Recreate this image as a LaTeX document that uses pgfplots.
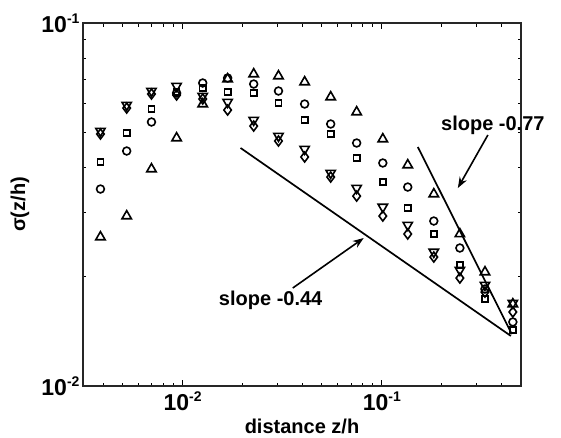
\documentclass[border=0pt]{standalone}
\usepackage{fontspec}
\setmainfont{Liberation Sans}
\usepackage{pgfplots}
\pgfplotsset{compat=1.18}
\usetikzlibrary{arrows.meta}
\newcommand\tl[1]{\fontsize{23}{26}\selectfont 10\raisebox{9pt}{\fontsize{14}{14}\selectfont #1}}
\begin{document}
\begin{tikzpicture}
\begin{axis}[
 at={(0,0)}, anchor=south west,
 scale only axis, width=438pt, height=363pt,
 xmode=log, ymode=log,
 xmin=0.003162, xmax=0.5, ymin=0.01, ymax=0.1,
 xtick={0.01,0.1}, xticklabels={\tl{-2},\tl{-1}},
 ytick={0.01,0.1}, yticklabels={\tl{-2},\tl{-1}},
 minor xtick={0.004,0.005,0.006,0.007,0.008,0.009,0.02,0.03,0.04,0.05,0.06,0.07,0.08,0.09,0.2,0.3,0.4},
 minor ytick={0.02,0.03,0.04,0.05,0.06,0.07,0.08,0.09},
 font=\bfseries,
 axis line style={line width=1.1pt, black!85},
 every tick/.style={black, line width=0.8pt},
 major tick length=6pt, minor tick length=3.5pt,
 xticklabel style={yshift=-2pt},
 xlabel={distance z/h}, ylabel={σ(z/h)},
 label style={font=\fontsize{20}{24}\selectfont\bfseries},
 xlabel style={at={(axis description cs:0.5,-0.1295)}, anchor=base},
 ylabel style={at={(axis description cs:-0.1438,0.5)}, anchor=center},
 clip=false,
 every axis plot/.append style={black, line width=1.6pt},
]
% up triangles
\addplot[only marks, mark=triangle, mark size=5.4pt] coordinates {
(0.00387,0.02573) (0.00524,0.02940) (0.00698,0.03961) (0.00933,0.04822) (0.01262,0.05982)
(0.01683,0.07010) (0.02275,0.07236) (0.0303,0.07145) (0.0410,0.06878) (0.0554,0.06254)
(0.0748,0.05686) (0.1012,0.04791) (0.135,0.04063) (0.1825,0.03380) (0.2466,0.02623)
(0.3297,0.02061) (0.455,0.01682)};
% circles
\addplot[only marks, mark=o, mark size=3.9pt] coordinates {
(0.00387,0.03489) (0.00524,0.04440) (0.00698,0.05337) (0.00933,0.06414) (0.01262,0.06835)
(0.01683,0.07055) (0.02275,0.06791) (0.0303,0.06497) (0.0410,0.05982) (0.0554,0.05270)
(0.0748,0.04671) (0.1012,0.04115) (0.135,0.03533) (0.1825,0.02848) (0.2466,0.02400)
(0.3297,0.01850) (0.455,0.01501)};
% squares
\addplot[only marks, mark=square, mark size=3.1pt] coordinates {
(0.00387,0.04141) (0.00524,0.04977) (0.00698,0.05795) (0.00933,0.06455) (0.01262,0.06621)
(0.01683,0.06455) (0.02275,0.06414) (0.0303,0.06020) (0.0410,0.05405) (0.0554,0.04946)
(0.0748,0.04247) (0.1012,0.03647) (0.135,0.03093) (0.1825,0.02623) (0.2466,0.02154)
(0.3297,0.01737) (0.455,0.01427)};
% down triangles
\addplot[only marks, mark=triangle, mark size=5.4pt, mark options={rotate=180}] coordinates {
(0.00387,0.05040) (0.00524,0.05945) (0.00698,0.06497) (0.00933,0.06706) (0.01262,0.06293)
(0.01683,0.06059) (0.02275,0.05405) (0.0303,0.04883) (0.0410,0.04497) (0.0554,0.03862)
(0.0748,0.03511) (0.1012,0.03113) (0.135,0.02777) (0.1825,0.02340) (0.2466,0.02087)
(0.3297,0.01898) (0.455,0.01693)};
% diamonds
\addplot[only marks, mark=diamond, mark size=5pt] coordinates {
(0.00387,0.04946) (0.00524,0.05832) (0.00698,0.06374) (0.00933,0.06334) (0.01262,0.06175)
(0.01683,0.05759) (0.02275,0.05203) (0.0303,0.04731) (0.0410,0.04274) (0.0554,0.03765)
(0.0748,0.03337) (0.1012,0.02940) (0.135,0.02623) (0.1825,0.02266) (0.2466,0.01984)
(0.3297,0.01815) (0.455,0.01599)};
% slope lines
\addplot[line width=1.7pt, mark=none] coordinates {(0.01954,0.04527) (0.4446,0.01374)};
\addplot[line width=1.7pt, mark=none] coordinates {(0.1517,0.04554) (0.4498,0.0139)};
\draw[line width=1.6pt, -{Stealth[length=11pt,width=8pt]}] (axis cs:0.03573,0.01862) -- (axis cs:0.08120,0.02557);
\draw[line width=1.6pt, -{Stealth[length=11pt,width=8pt]}] (axis cs:0.3409,0.04914) -- (axis cs:0.2409,0.03511);
\node[font=\fontsize{20}{24}\selectfont\bfseries] at (axis cs:0.02768,0.01726) {slope -0.44};
\node[font=\fontsize{20}{24}\selectfont\bfseries] at (axis cs:0.3612,0.05236) {slope -0.77};
\end{axis}
\pgfresetboundingbox
\path[use as bounding box] (-83pt,-51pt) rectangle (478pt,386pt);
\end{tikzpicture}
\end{document}
